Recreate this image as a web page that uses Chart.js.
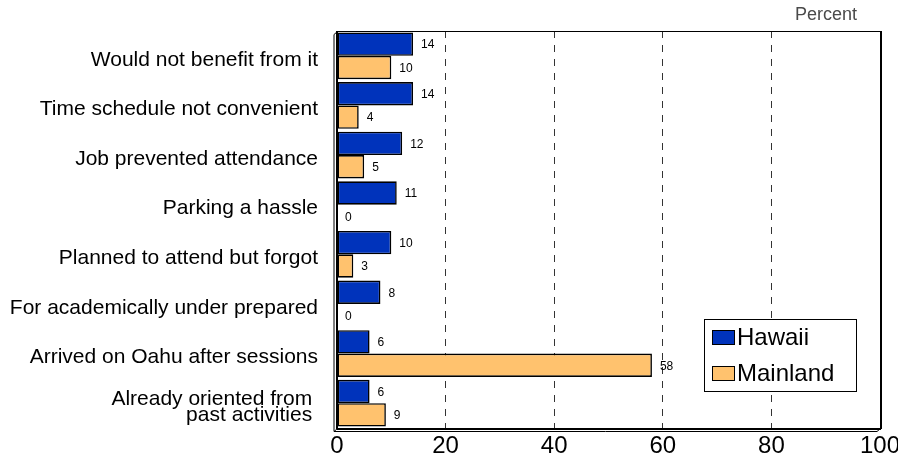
<!DOCTYPE html>
<html>
<head>
<meta charset="utf-8">
<script src="https://cdn.jsdelivr.net/npm/chart.js@4"></script>
<style>
  html, body { margin: 0; padding: 0; background: #fff; }
  #wrap { width: 898px; height: 470px; }
</style>
</head>
<body>
<div id="wrap"><canvas id="reasonsChart" width="898" height="470"></canvas></div>
<script>
const reasons = [
  'Would not benefit from it',
  'Time schedule not convenient',
  'Job prevented attendance',
  'Parking a hassle',
  'Planned to attend but forgot',
  'For academically under prepared',
  'Arrived on Oahu after sessions',
  ['Already oriented from ', 'past activities ']
]
const hawaii = [14, 14, 12, 11, 10, 8, 6, 6]
const mainland = [10, 4, 5, 0, 3, 0, 58, 9]
const seriesNames = ['Hawaii', 'Mainland']
const seriesColors = ['#0033BB', '#FFC26E']
const percentTicks = [0, 20, 40, 60, 80, 100]

const FONT = "'Liberation Sans', Arial, sans-serif"

// value labels next to each bar end
const valueLabels = {
  id: 'valueLabels',
  afterDatasetsDraw(chart) {
    const ctx = chart.ctx
    ctx.save()
    ctx.font = '12px ' + FONT
    ctx.fillStyle = '#000'
    ctx.textBaseline = 'middle'
    chart.data.datasets.forEach((ds, i) => {
      chart.getDatasetMeta(i).data.forEach((bar, j) => {
        ctx.fillText(String(ds.data[j]), bar.x + 8, bar.y + 1)
      })
    })
    ctx.restore()
  }
}

// frame with a small offset shadow, legend box and the unit caption
const frame = {
  id: 'frame',
  afterDraw(chart) {
    const { ctx, chartArea: a } = chart
    ctx.save()
    ctx.strokeStyle = '#000'
    ctx.lineWidth = 1
    ctx.strokeRect(a.left + 0.5, a.top + 0.5, a.right - a.left, a.bottom - a.top)
    // shadow edge
    ctx.beginPath()
    ctx.moveTo(a.left - 3, a.bottom + 3.5)
    ctx.lineTo(a.right - 3, a.bottom + 3.5)
    ctx.lineTo(a.right + 0.5, a.bottom + 0.5)
    ctx.moveTo(a.left - 3, a.bottom + 3.5)
    ctx.lineTo(a.left + 0.5, a.bottom + 0.5)
    ctx.moveTo(a.left - 3, a.bottom + 3.5)
    ctx.lineTo(a.left - 3, a.top + 3.5)
    ctx.lineTo(a.left + 0.5, a.top + 0.5)
    ctx.stroke()
    ctx.lineWidth = 2
    ctx.beginPath()
    ctx.moveTo(a.left, a.top)
    ctx.lineTo(a.left, a.bottom + 1)
    ctx.moveTo(a.left, a.bottom + 1)
    ctx.lineTo(a.right + 1, a.bottom + 1)
    ctx.moveTo(a.right + 1, a.top)
    ctx.lineTo(a.right + 1, a.bottom + 1)
    ctx.stroke()

    // legend
    const lx = 704, ly = 319, lw = 152, lh = 72
    ctx.fillStyle = '#fff'
    ctx.fillRect(lx, ly, lw, lh)
    ctx.lineWidth = 1
    ctx.strokeRect(lx + 0.5, ly + 0.5, lw, lh)
    ctx.font = '24px ' + FONT
    ctx.textBaseline = 'middle'
    seriesNames.forEach((name, i) => {
      const y = ly + 18 + i * 36
      ctx.fillStyle = seriesColors[i]
      ctx.fillRect(lx + 8, y - 7, 22, 14)
      ctx.strokeStyle = '#000'
      ctx.strokeRect(lx + 8.5, y - 6.5, 22, 14)
      ctx.fillStyle = '#000'
      ctx.fillText(name, lx + 33, y + 1)
    })

    ctx.font = '18px ' + FONT
    ctx.fillStyle = '#4a4a4a'
    ctx.textAlign = 'center'
    ctx.fillText('Percent', 826, 15)
    ctx.restore()
  }
}

new Chart('reasonsChart', {
  type: 'bar',
  data: {
    labels: reasons,
    datasets: seriesNames.map((name, i) => ({
      label: name,
      data: i === 0 ? hawaii : mainland,
      backgroundColor: seriesColors[i],
      borderColor: '#000',
      borderWidth: 1.6,
      borderSkipped: false,
      barPercentage: 1,
      categoryPercentage: 0.94
    }))
  },
  options: {
    indexAxis: 'y',
    responsive: false,
    animation: false,
    layout: { padding: { top: 31, right: 18, left: 0, bottom: 0 } },
    plugins: {
      legend: { display: false },
      tooltip: { enabled: false }
    },
    scales: {
      x: {
        min: 0,
        max: 100,
        afterBuildTicks: scale => { scale.ticks = percentTicks.map(v => ({ value: v })) },
        afterFit: scale => {
          scale.height = 42
          scale.paddingLeft = 0
          scale.paddingRight = 0
        },
        grid: {
          drawTicks: false,
          color: c => (c.tick.value === 0 || c.tick.value === 100) ? 'rgba(0,0,0,0)' : '#333',
          lineWidth: 1
        },
        border: { display: false, dash: [7, 7] },
        ticks: {
          color: '#000',
          padding: 4,
          font: { family: FONT, size: 24 }
        }
      },
      y: {
        afterFit: scale => {
          scale.width = 337
          scale.paddingTop = 0
          scale.paddingBottom = 0
        },
        border: { display: false },
        grid: { display: false, drawTicks: false },
        ticks: {
          color: '#000',
          padding: 19,
          labelOffset: 4,
          font: { family: FONT, size: 21, lineHeight: 0.8 }
        }
      }
    }
  },
  plugins: [valueLabels, frame]
})
</script>
</body>
</html>
